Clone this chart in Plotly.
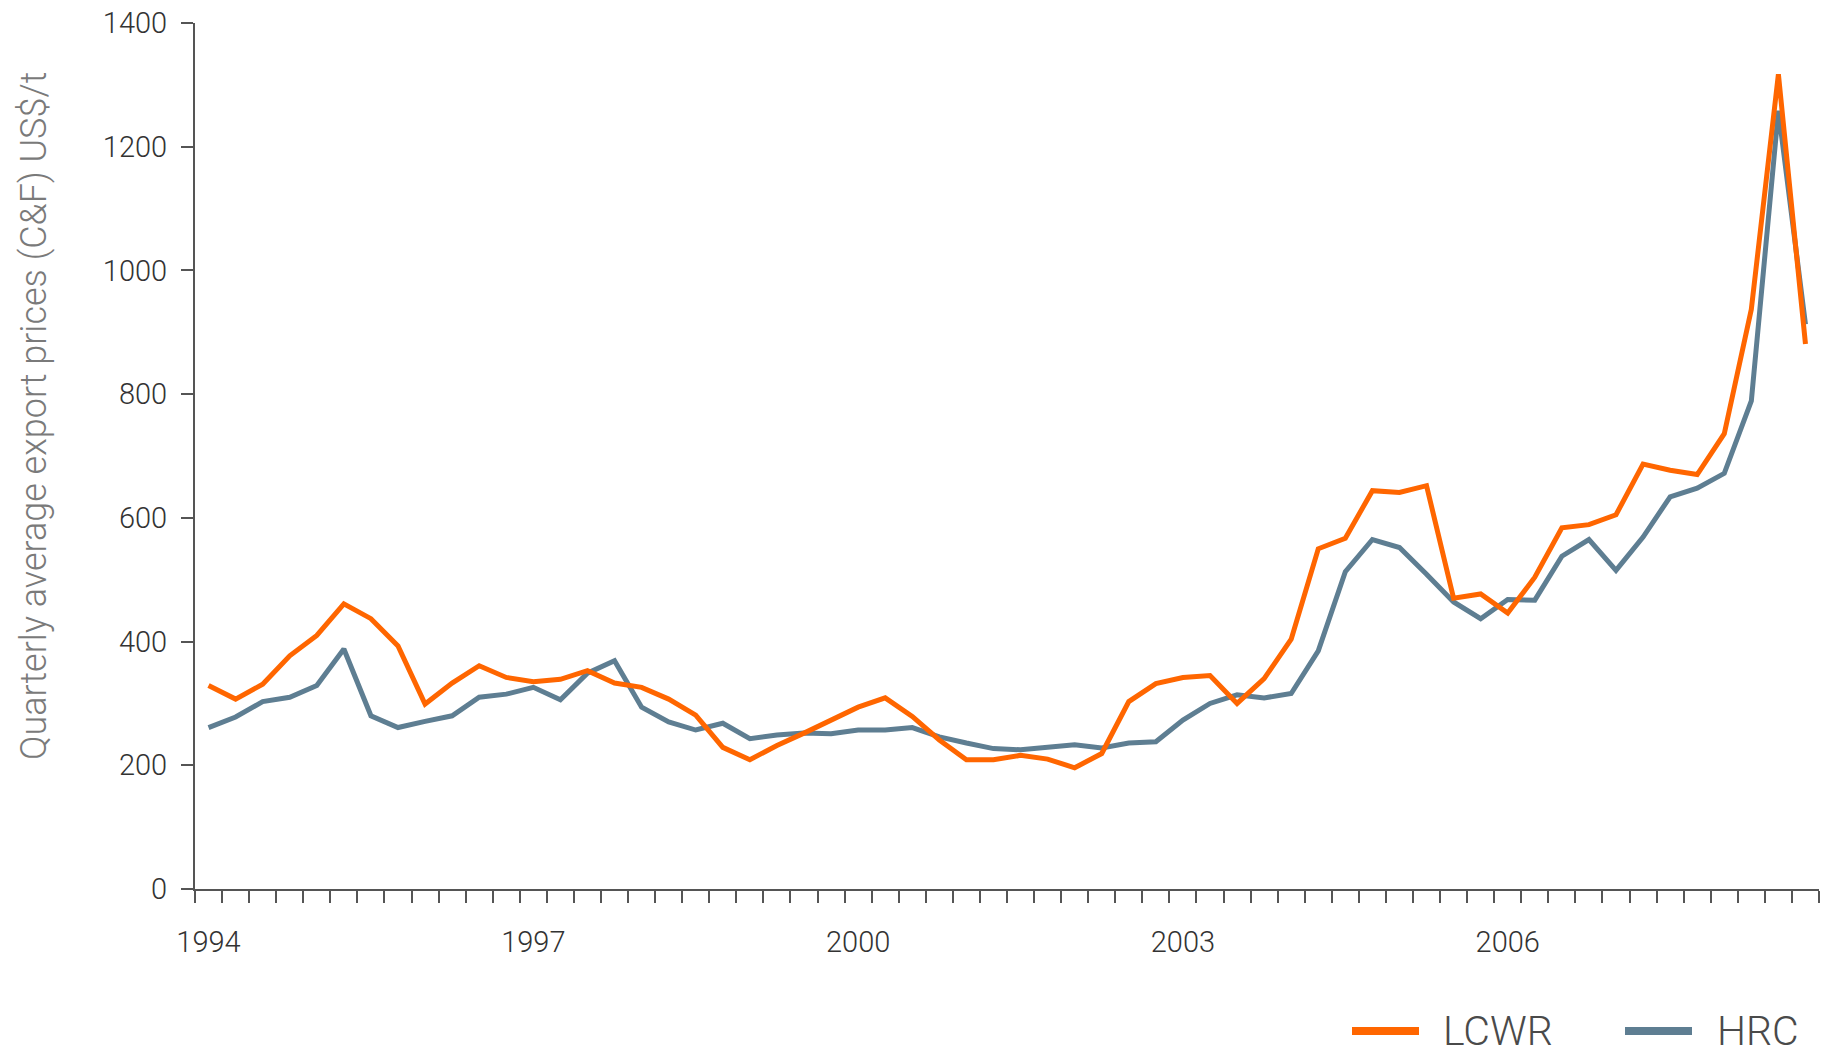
import plotly.graph_objects as go

quarters = list(range(60))
year_ticks = [0, 12, 24, 36, 48]
year_labels = ["1994", "1997", "2000", "2003", "2006"]

lcwr = [329, 307, 331, 377, 410, 461, 437, 393, 299, 333,
        361, 342, 335, 339, 353, 333, 326, 307, 281, 229,
        209, 232, 252, 274, 294, 309, 279, 241, 209, 209,
        216, 210, 196, 219, 303, 332, 342, 345, 300, 340,
        404, 550, 567, 644, 641, 652, 470, 477, 446, 504,
        584, 589, 605, 687, 677, 670, 736, 937, 1317, 881]

hrc = [261, 278, 303, 310, 329, 388, 280, 261, 271, 280,
       310, 315, 326, 306, 349, 369, 294, 270, 257, 268,
       243, 249, 252, 251, 257, 257, 261, 246, 236, 227,
       225, 229, 233, 228, 236, 238, 273, 300, 314, 309,
       316, 385, 513, 565, 552, 509, 464, 437, 468, 467,
       538, 565, 515, 569, 634, 648, 672, 789, 1258, 913]

ORANGE = "#FF6600"
SLATE = "#5E7E92"
FONT = "Roboto, 'DejaVu Sans Condensed', 'Liberation Sans', sans-serif"
AXIS = "#555555"

W, H = 1825, 1054
L, R, T, B = 195, 6, 23, 165
PW, PH = W - L - R, H - T - B


def px_x(px):
    return (px - L) / PW


def px_y(py):
    return (H - B - py) / PH


fig = go.Figure()
fig.add_trace(go.Scatter(x=quarters, y=hrc, mode="lines", name="HRC",
                         line=dict(color=SLATE, width=5), showlegend=False))
fig.add_trace(go.Scatter(x=quarters, y=lcwr, mode="lines", name="LCWR",
                         line=dict(color=ORANGE, width=5), showlegend=False))

tickfont = dict(size=29, color="#333333", family=FONT, weight=300)

fig.update_layout(
    width=W, height=H,
    margin=dict(l=L, r=R, t=T, b=B, pad=0),
    paper_bgcolor="white", plot_bgcolor="white",
    font=dict(family=FONT, color="#333333"),
    xaxis=dict(range=[-0.5, 59.5], tickmode="array", tickvals=year_ticks,
               ticktext=year_labels, ticks="", showgrid=False, zeroline=False,
               showline=True, linecolor=AXIS, linewidth=2,
               tickfont=tickfont, ticklabelstandoff=26,
               minor=dict(tick0=-0.5, dtick=1, ticks="outside", ticklen=12,
                          tickwidth=2, tickcolor=AXIS, showgrid=False)),
    yaxis=dict(range=[0, 1400], dtick=200, ticks="outside", ticklen=12,
               tickwidth=2, tickcolor=AXIS, showgrid=False, zeroline=False,
               showline=True, linecolor=AXIS, linewidth=2,
               tickfont=tickfont, ticklabelstandoff=8),
)

# Y axis title
fig.add_annotation(text="Quarterly average export prices (C&F) US$/t",
                   xref="paper", yref="paper", x=px_x(34), y=px_y(416),
                   xanchor="center", yanchor="middle", textangle=-90,
                   showarrow=False,
                   font=dict(size=36, color="#7a7a7a", family=FONT, weight=300))

# Custom legend
legend_items = [("LCWR", ORANGE, 1352, 1419, 1441), ("HRC", SLATE, 1625, 1692, 1715)]
ly = 1031
for name, col, x0, x1, tx in legend_items:
    fig.add_shape(type="line", xref="paper", yref="paper",
                  x0=px_x(x0), x1=px_x(x1), y0=px_y(ly), y1=px_y(ly),
                  line=dict(color=col, width=8))
    fig.add_annotation(text=name, xref="paper", yref="paper", x=px_x(tx), y=px_y(ly),
                       xanchor="left", yanchor="middle", showarrow=False,
                       font=dict(size=41, color="#4a4a4a", family=FONT, weight=300))

fig.write_html("out.html", config={"displayModeBar": False},
               post_script="document.body.style.margin='0';document.body.style.overflow='hidden';")
